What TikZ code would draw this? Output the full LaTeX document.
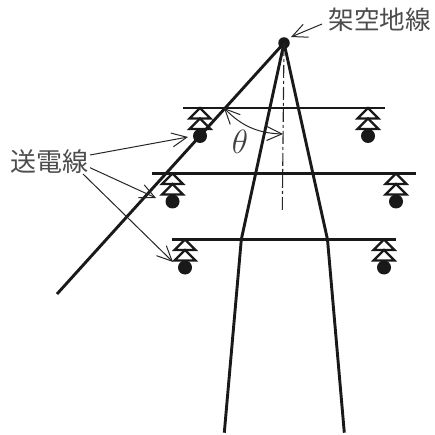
\documentclass[tikz,border=0pt]{standalone}
\usepackage{fontspec}
\newfontfamily\jpfont{Noto Sans CJK JP}
\usetikzlibrary{arrows.meta}
\tikzset{
  heavy/.style={line width=2.6pt,line cap=butt,color=black!90},
  mast/.style={line width=2.9pt,line join=miter,color=black!90},
  leader/.style={line width=1pt,color=black!85,-{Straight Barb[length=15pt,width=14pt,line width=1pt]}},
  label/.style={inner sep=0pt,text=black!70},
  disc/.style={circle,fill=black!90,draw=none,inner sep=0pt,minimum size=14pt},
  apexdot/.style={circle,fill=black!90,draw=none,inner sep=0pt,minimum size=11.5pt},
}
\newcommand{\insulator}[3]{%
  \draw[line width=2.2pt,color=black!90,line join=miter] (#2,#3) -- (#2+10.5,#3+10.5) -- (#2-10.5,#3+10.5) -- cycle;
  \draw[line width=2.2pt,color=black!90,line join=miter] (#2,#3+10.5) -- (#2+10.5,#3+21) -- (#2-10.5,#3+21) -- cycle;
  \node[disc] (#1) at (#2,#3+28) {};
}
\begin{document}
\begin{tikzpicture}[x=1pt,y=-1pt]
\useasboundingbox (0,0) rectangle (434,435);
\node[apexdot] (apex) at (284,43) {};
\coordinate (gwEnd) at (57,294);
\coordinate (armLa) at (183,108); \coordinate (armLb) at (385,108);
\coordinate (armMa) at (152,173.5); \coordinate (armMb) at (416,173.5);
\coordinate (armNa) at (172,239.5); \coordinate (armNb) at (396,239.5);
\coordinate (waistL) at (241.3,239.5); \coordinate (waistR) at (327.5,239.5);
\coordinate (footL) at (224.3,432.7); \coordinate (footR) at (344.3,432.7);
\coordinate (centerEnd) at (282.3,210);
\coordinate (angA) at (224,108); \coordinate (angB) at (283,134);

\draw[heavy] (armLa) -- (armLb);
\draw[heavy] (armMa) -- (armMb);
\draw[heavy] (armNa) -- (armNb);
\draw[mast] (apex.center) -- (gwEnd);
\draw[mast] (apex.center) -- (waistL) -- (footL);
\draw[mast] (apex.center) -- (waistR) -- (footR);
\draw[line width=1.1pt,color=black!85,dash pattern=on 13pt off 3pt on 3pt off 3pt] (apex.center) -- (centerEnd);

\insulator{insA}{200}{108}
\insulator{insB}{172.5}{173.5}
\insulator{insC}{185}{239.5}
\insulator{insD}{368}{108}
\insulator{insE}{396}{173.5}
\insulator{insF}{384}{239.5}

\draw[line width=1pt,color=black!85,{Straight Barb[length=15pt,width=14pt,line width=1pt]}-{Straight Barb[length=15pt,width=14pt,line width=1pt]}] (angA) to[bend right=22] (angB);
\node[inner sep=0pt,text=black!75,scale=1.35] (theta) at (240,142) {\fontsize{24}{24}\selectfont$\theta$};

\node[label,anchor=west,font=\jpfont\fontsize{25.6}{25.6}\selectfont] (gw) at (328.5,20) {架空地線};
\node[label,anchor=west,font=\jpfont\fontsize{26}{26}\selectfont] (tl) at (10,161.5) {送電線};
\coordinate (gwTip) at (291,37);
\coordinate (gwStart) at (322,24);
\draw[leader] (gwStart) -- (gwTip);
\coordinate (s1) at (90,155); \coordinate (t1) at (188,137);
\coordinate (s2) at (90,167.7); \coordinate (t2) at (156,198);
\coordinate (s3) at (83,174); \coordinate (t3) at (173,262);
\draw[leader] (s1) -- (t1);
\draw[leader] (s2) -- (t2);
\draw[leader] (s3) -- (t3);
\end{tikzpicture}
\end{document}
